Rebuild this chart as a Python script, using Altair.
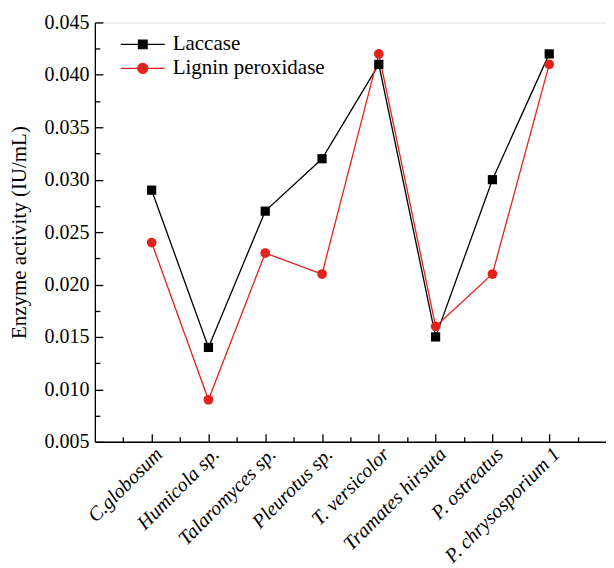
import math
import altair as alt
import pandas as pd

categories = ["C.globosum", "Humicola sp.", "Talaromyces sp.", "Pleurotus sp.",
              "T. versicolor", "Tramates hirsuta", "P. ostreatus", "P. chrysosporium 1"]
laccase = [0.029, 0.014, 0.027, 0.032, 0.041, 0.015, 0.030, 0.042]
lignin_peroxidase = [0.024, 0.009, 0.023, 0.021, 0.042, 0.016, 0.021, 0.041]
series_names = ["Laccase", "Lignin peroxidase"]
y_ticks = [0.005, 0.010, 0.015, 0.020, 0.025, 0.030, 0.035, 0.040, 0.045]
y_minor = [0.0075, 0.0125, 0.0175, 0.0225, 0.0275, 0.0325, 0.0375, 0.0425]
x_major = list(range(1, 9))
x_minor = [0.5, 1.5, 2.5, 3.5, 4.5, 5.5, 6.5, 7.5, 8.5]

rows = []
for i, c in enumerate(categories):
    rows.append({"pos": i + 1, "cat": c, "series": "Laccase", "value": laccase[i]})
    rows.append({"pos": i + 1, "cat": c, "series": "Lignin peroxidase", "value": lignin_peroxidase[i]})
df = pd.DataFrame(rows)

W, H = 512, 420
FONT = "Liberation Serif"
BLACK = "#000000"
RED = "#e3231b"

xs = alt.Scale(domain=[0, 9], nice=False, zero=False)
ys = alt.Scale(domain=[0.005, 0.045], nice=False, zero=False)

label_expr = "[" + ",".join("'" + c + "'" for c in categories) + "][datum.value - 1]"

base = alt.Chart(df)

x_main = alt.X("pos:Q", scale=xs, axis=alt.Axis(
    values=x_major, labelExpr=label_expr, labelAngle=-45, ticks=False, grid=False,
    title=None, domainColor=BLACK, domainWidth=1.3, labelFont=FONT, labelFontSize=20,
    labelFontStyle="italic", labelColor=BLACK, labelPadding=2, labelOverlap=False))
y_main = alt.Y("value:Q", scale=ys, axis=alt.Axis(
    values=y_ticks, format=".3f", ticks=False, grid=False,
    title="Enzyme activity (IU/mL)", titleFont=FONT, titleFontSize=21, titleFontWeight="normal",
    titleColor=BLACK, titlePadding=14, domainColor=BLACK, domainWidth=1.3,
    labelFont=FONT, labelFontSize=20, labelColor=BLACK, labelPadding=6))

lac = base.transform_filter(alt.datum.series == "Laccase")
lip = base.transform_filter(alt.datum.series == "Lignin peroxidase")

x_none = alt.X("pos:Q", scale=xs, axis=None)
y_none = alt.Y("value:Q", scale=ys, axis=None)

line_lac = lac.mark_line(color=BLACK, strokeWidth=1.3).encode(x=x_main, y=y_main)
line_lip = lip.mark_line(color=RED, strokeWidth=1.3).encode(x=x_none, y=y_none)
pts_lac = lac.mark_point(shape="square", filled=True, color=BLACK, size=85, opacity=1).encode(
    x=x_none, y=y_none)
pts_lip = lip.mark_point(shape="circle", filled=True, color=RED, size=95, opacity=1).encode(
    x=x_none, y=y_none)

# legend glyphs: line segment with marker, in the unit symbol box
r = 0.23
poly = "".join(("M" if k == 0 else "L") + f"{r*math.cos(2*math.pi*k/24):.4f},{r*math.sin(2*math.pi*k/24):.4f}"
               for k in range(24)) + "Z"
sq_path = "M-1,0L-0.2,0M0.2,0L1,0M-0.2,-0.2L0.2,-0.2L0.2,0.2L-0.2,0.2Z"
ci_path = f"M-1,0L-{r},0M{r},0L1,0" + poly
leg = alt.Legend(title=None, orient="none", legendX=25, legendY=10, labelFont=FONT,
                 labelFontSize=21, labelColor=BLACK, symbolSize=1936, symbolOpacity=1,
                 symbolStrokeWidth=1.1, labelOffset=7, rowPadding=0, clipHeight=24)
cscale = alt.Scale(domain=series_names, range=[BLACK, RED])
legend_layer = base.mark_point(filled=True, opacity=0).encode(
    x=x_none, y=y_none,
    fill=alt.Fill("series:N", scale=cscale, legend=leg),
    stroke=alt.Stroke("series:N", scale=cscale, legend=leg),
    shape=alt.Shape("series:N", scale=alt.Scale(domain=series_names, range=[sq_path, ci_path]), legend=leg),
)

def tick_layer_x(vals, size):
    return base.mark_point(opacity=0).encode(
        x=alt.X("pos:Q", scale=xs, axis=alt.Axis(
            orient="top", offset=-H, values=vals, tickSize=size, tickWidth=1.3,
            tickColor=BLACK, labels=False, domain=False, grid=False, title=None)),
        y=y_none)

def tick_layer_y(vals, size):
    return base.mark_point(opacity=0).encode(
        x=x_none,
        y=alt.Y("value:Q", scale=ys, axis=alt.Axis(
            orient="right", offset=-W, values=vals, tickSize=size, tickWidth=1.3,
            tickColor=BLACK, labels=False, domain=False, grid=False, title=None)))

chart = alt.layer(
    line_lac, line_lip, pts_lac, pts_lip, legend_layer,
    tick_layer_x(x_major, 8), tick_layer_x(x_minor, 5),
    tick_layer_y(y_ticks, 8), tick_layer_y(y_minor, 5),
).resolve_axis(x="independent", y="independent").properties(
    width=W, height=H, padding={"left": 1, "top": 4, "right": 0, "bottom": 0},
).configure_view(stroke=None).configure(background="white", font=FONT).configure_axis(
    labelFont=FONT, titleFont=FONT).configure_legend(labelFont=FONT)

chart.save("out.html", embed_options={"renderer": "svg", "actions": False})
